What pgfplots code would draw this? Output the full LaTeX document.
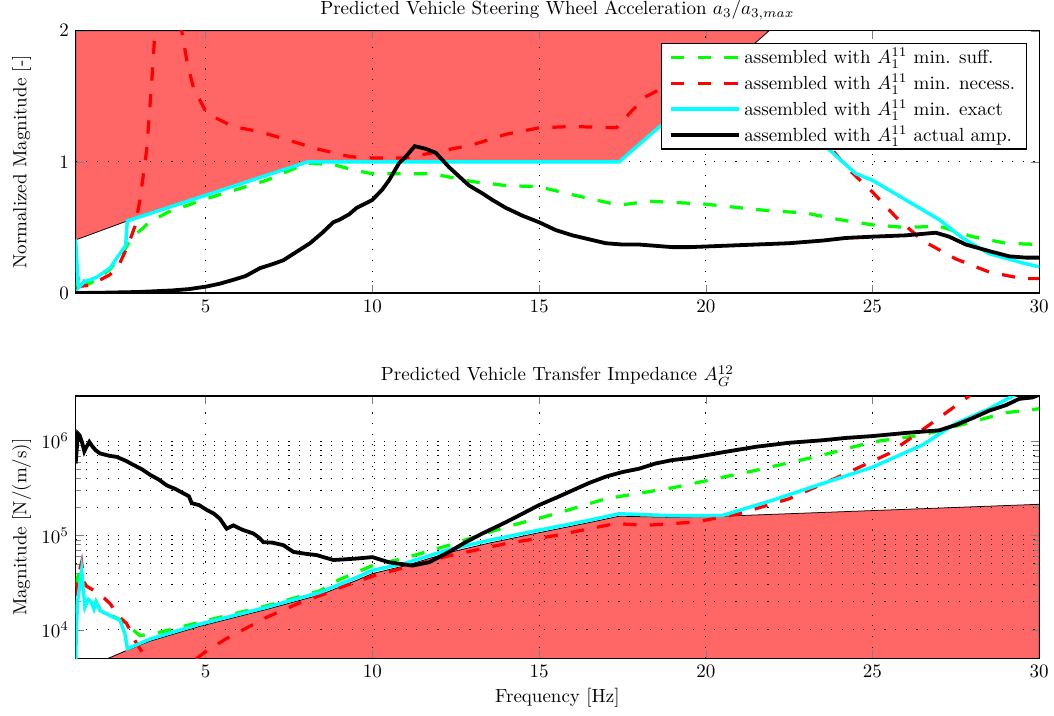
\documentclass[border=0pt]{standalone}
\usepackage{pgfplots}
\pgfplotsset{compat=1.18}
\definecolor{patchred}{RGB}{255,102,102}
\definecolor{mgreen}{RGB}{0,255,0}
\definecolor{mred}{RGB}{255,0,0}
\definecolor{mcyan}{RGB}{0,255,255}

\pgfplotsset{
  mstyle/.style={
    scale only axis, width=507pt, height=138pt,
    xmin=1.1, xmax=30, xtick={5,10,...,30},
    tick align=inside, tick pos=both,
    axis line style={line width=0.6pt},
    grid style={black, line width=0.5pt, dash pattern=on 0.6pt off 5pt},
    minor grid style={black, line width=0.5pt, dash pattern=on 0.6pt off 5pt},
    set layers, clip mode=individual,
    every axis title shift=0pt,
    title style={at={(axis description cs:0.5,1.077)}, anchor=center},
    xlabel style={yshift=1pt},
    ylabel style={at={(axis description cs:-0.056,0.5)}, anchor=center},
  },
  suff/.style={mgreen, line width=1.7pt, dash pattern=on 7pt off 7pt},
  necess/.style={mred, line width=1.7pt, dash pattern=on 7pt off 7pt},
  exact/.style={mcyan, line width=1.8pt},
  actual/.style={black, line width=2pt},
}

\begin{document}
\begin{tikzpicture}
\begin{axis}[mstyle,
  at={(0,0)}, anchor=south west,
  ymin=0, ymax=2, ytick={0,1,2},
  xmajorgrids, ymajorgrids,
  title={Predicted Vehicle Steering Wheel Acceleration $a_3/a_{3,max}$},
  ylabel={Normalized Magnitude [-]},
  legend cell align=left,
  legend style={at={(0.9876,0.954)}, anchor=north east, draw=black, line width=0.6pt,
    inner xsep=4pt, inner ysep=0.5pt},
  legend image code/.code={\draw[#1] (2.5pt,0pt) -- (38pt,0pt);},
]
\addplot[on layer=axis background, fill=patchred, draw=black, line width=0.4pt, forget plot]
  coordinates {(1.1,0.405) (2.65,0.55) (8.05,1.0) (17.4,1.0) (21.9,2.0) (1.1,2.0)} -- cycle;

\addplot[suff] coordinates {
(1.1,0.02) (1.18,0.11) (1.25,0.04) (1.35,0.09) (1.5,0.07) (1.7,0.10) (2.13,0.18)
(2.5,0.30) (2.8,0.43) (3.1,0.49) (3.3,0.54) (3.9,0.62) (5.03,0.72) (6.83,0.86)
(8.03,0.99) (8.83,0.98) (9.4,0.94) (10,0.91) (11,0.91) (11.8,0.91) (13,0.85)
(14,0.82) (15,0.81) (16,0.75) (17.4,0.67) (18.3,0.70) (19.9,0.68) (21.8,0.63)
(23,0.61) (24,0.56) (25,0.52) (26,0.50) (27,0.51) (28,0.43) (29,0.38) (30,0.37)
};
\addlegendentry{assembled with $A_1^{11}$ min. suff.}

\addplot[necess] coordinates {
(1.12,0.03) (1.18,0.05) (1.53,0.06) (2.13,0.14) (2.43,0.23) (2.68,0.37) (2.88,0.51)
(3.03,0.71) (3.13,0.90) (3.23,1.09) (3.38,1.6) (3.48,2.0) (3.65,2.8) (4.1,2.8)
(4.28,2.0) (4.45,1.75) (4.63,1.57) (4.83,1.47) (5.03,1.37) (5.82,1.27) (6.63,1.23)
(7.43,1.17) (8.33,1.10) (9.33,1.04) (10,1.03) (11,1.03) (12,1.08) (13,1.13)
(14,1.21) (15,1.26) (16,1.27) (17.32,1.26) (17.82,1.40) (18.22,1.50) (18.6,1.55)
(19.5,1.68) (20.5,1.8) (21.5,1.75) (22.5,1.55) (23.2,1.3) (23.7,1.12) (24.3,0.94)
(25,0.77) (25.7,0.58) (26.5,0.40) (27.5,0.26) (28.5,0.16) (29.5,0.11) (30,0.11)
};
\addlegendentry{assembled with $A_1^{11}$ min. necess.}

\addplot[exact] coordinates {
(1.1,0.41) (1.18,0.04) (1.38,0.09) (1.53,0.10) (1.73,0.12) (2.13,0.19) (2.48,0.32)
(2.6,0.36) (2.65,0.55) (8.05,1.0) (17.4,1.0) (18.8,1.31) (20.3,1.64) (21.2,1.8)
(22,1.6) (22.8,1.35) (23.5,1.14) (24.5,0.91) (25,0.86) (26,0.71) (27,0.56)
(27.7,0.42) (28.5,0.30) (29.5,0.23) (30,0.20)
};
\addlegendentry{assembled with $A_1^{11}$ min. exact}

\addplot[actual] coordinates {
(1.1,0.0) (2,0.003) (3,0.008) (4,0.02) (4.5,0.03) (5.03,0.05) (5.4,0.07)
(5.82,0.10) (6.2,0.13) (6.63,0.19) (7.0,0.22) (7.33,0.25) (7.7,0.31) (8.13,0.38)
(8.5,0.46) (8.83,0.54) (9.02,0.56) (9.3,0.60) (9.53,0.65) (10,0.71) (10.3,0.79)
(10.5,0.86) (10.8,0.99) (11.0,1.04) (11.27,1.12) (11.6,1.10) (11.9,1.07)
(12.3,0.96) (12.6,0.89) (12.9,0.82) (13.3,0.76) (13.6,0.71) (14.0,0.65)
(14.5,0.59) (15.0,0.54) (15.5,0.48) (16.0,0.44) (16.5,0.41) (17.0,0.38)
(17.5,0.37) (18.0,0.37) (18.5,0.36) (19.0,0.35) (19.5,0.35) (20.5,0.36)
(21.5,0.37) (22.5,0.38) (23.5,0.40) (24.2,0.42) (25.0,0.43) (26.0,0.44)
(26.9,0.46) (27.3,0.43) (27.8,0.37) (28.5,0.32) (29.1,0.28) (29.6,0.27) (30,0.27)
};
\addlegendentry{assembled with $A_1^{11}$ actual amp.}
\end{axis}

\begin{axis}[mstyle,
  at={(0,-192.2pt)}, anchor=south west,
  ymode=log, ymin=5000, ymax=3e6, ytick={1e4,1e5,1e6},
  xmajorgrids, ymajorgrids, yminorgrids,
  title={Predicted Vehicle Transfer Impedance $A_G^{12}$},
  ylabel={Magnitude [N/(m/s)]},
  xlabel={Frequency [Hz]},
]
\addplot[on layer=axis background, fill=patchred, draw=black, line width=0.4pt]
  coordinates {(1.44,4000) (2.65,6.1e3) (3.33,7.6e3) (4.82,1.09e4) (6.83,1.65e4)
  (8.43,2.35e4) (9.53,3.35e4) (10,3.95e4) (11,4.8e4) (12.3,6.6e4) (13.5,8.3e4)
  (15,1.07e5) (16.5,1.37e5) (17.4,1.6e5) (19,1.56e5) (20.5,1.6e5) (30,2.14e5)
  (30,1000) (1.44,1000)} -- cycle;

\addplot[suff] coordinates {
(1.1,1.5e4) (1.15,3.5e4) (1.25,4.6e4) (1.38,1.8e4) (1.48,2.1e4) (1.56,2.0e4)
(1.65,1.7e4) (1.71,2.0e4) (1.83,1.65e4) (2.43,1.28e4) (2.6,1.05e4) (2.78,1.03e4)
(3.03,8.7e3) (3.3,9.0e3) (3.55,9.3e3) (5,1.25e4) (6.83,1.8e4) (8.43,2.6e4)
(9,3.4e4) (10,4.8e4) (11,5.8e4) (12.3,7.9e4) (14,1.23e5) (15.5,1.7e5) (17,2.45e5)
(19,3.2e5) (21.5,4.9e5) (23.5,7.1e5) (25,9.8e5) (26.5,1.16e6) (28,1.6e6)
(29,2.0e6) (30,2.2e6)
};
\addplot[necess] coordinates {
(1.1,2.3e4) (1.2,4.0e4) (1.28,5.2e4) (1.35,3.2e4) (1.43,2.9e4) (1.83,2.4e4)
(2.13,1.9e4) (2.43,1.35e4) (2.63,1.17e4) (2.88,7.7e3) (3.18,5.2e3) (3.5,4.0e3)
(4.0,3.5e3) (4.5,4.2e3) (4.8,5.2e3) (5.03,6.0e3) (5.6,8.0e3) (6.83,1.36e4)
(7.83,1.94e4) (8.83,2.6e4) (9.02,2.8e4) (10,3.7e4) (11,4.6e4) (12.3,6.1e4)
(14,8.2e4) (15.5,1.0e5) (17.3,1.34e5) (18.2,1.28e5) (19.7,1.39e5) (21,1.7e5)
(22.5,2.45e5) (24,4.2e5) (25.5,7.4e5) (26.7,1.48e6) (27.9,3.0e6) (28.5,4.5e6)
};
\addplot[exact] coordinates {
(1.1,4.0e3) (1.12,1.0e4) (1.16,2.0e4) (1.28,4.3e4) (1.38,1.74e4) (1.48,2.1e4)
(1.56,2.0e4) (1.65,1.66e4) (1.71,1.96e4) (1.83,1.6e4) (2.43,1.26e4) (2.58,9.1e3)
(2.65,6.3e3) (3.33,8.0e3) (4.82,1.15e4) (6.83,1.74e4) (8.43,2.5e4) (9.53,3.6e4)
(10,4.27e4) (11,5.1e4) (12.3,7.1e4) (13.5,8.9e4) (15,1.14e5) (16.5,1.45e5)
(17.4,1.7e5) (19,1.62e5) (20.5,1.63e5) (22,2.36e5) (23.5,3.55e5) (25,5.3e5)
(26.5,9.1e5) (27.5,1.54e6) (28.5,2.2e6) (29.2,3.0e6) (29.6,3.5e6)
};
\addplot[actual] coordinates {
(1.1,5.8e5) (1.17,1.2e6) (1.22,1.15e6) (1.3,9.5e5) (1.36,7.8e5) (1.41,8.5e5)
(1.51,9.8e5) (1.6,8.8e5) (1.7,8.0e5) (1.83,7.4e5) (2.1,7.0e5) (2.33,6.8e5)
(2.6,6.2e5) (2.83,5.6e5) (3.1,5.0e5) (3.33,4.4e5) (3.6,3.9e5) (3.83,3.4e5)
(4.1,3.1e5) (4.33,2.8e5) (4.5,2.6e5) (4.58,2.2e5) (4.8,2.1e5) (5.03,1.87e5)
(5.25,1.7e5) (5.43,1.5e5) (5.63,1.18e5) (5.83,1.28e5) (6.1,1.15e5) (6.43,1.05e5)
(6.6,9.5e4) (6.73,8.5e4) (7.0,8.4e4) (7.33,7.9e4) (7.63,6.7e4) (8.0,6.4e4)
(8.33,6.2e4) (8.83,5.5e4) (9.2,5.6e4) (9.53,5.7e4) (10,5.9e4) (10.5,5.2e4)
(11.2,4.8e4) (11.7,5.2e4) (12.3,6.7e4) (12.8,8.5e4) (13.3,1.05e5) (14,1.38e5)
(14.5,1.7e5) (15,2.1e5) (15.5,2.5e5) (16,3.0e5) (16.5,3.6e5) (17,4.2e5)
(17.5,4.7e5) (18,5.1e5) (18.5,5.8e5) (19,6.3e5) (19.5,6.6e5) (20.5,7.6e5)
(21.5,8.7e5) (22.5,9.6e5) (23.5,1.02e6) (24.2,1.08e6) (25,1.13e6) (26,1.22e6)
(27,1.3e6) (27.5,1.48e6) (28,1.75e6) (28.5,2.1e6) (29,2.4e6) (29.4,2.8e6)
(29.8,2.9e6) (30,3.1e6)
};
\end{axis}
\pgfresetboundingbox
\useasboundingbox (-39.8pt,-222.1pt) rectangle (514.8pt,154.2pt);
\end{tikzpicture}
\end{document}
